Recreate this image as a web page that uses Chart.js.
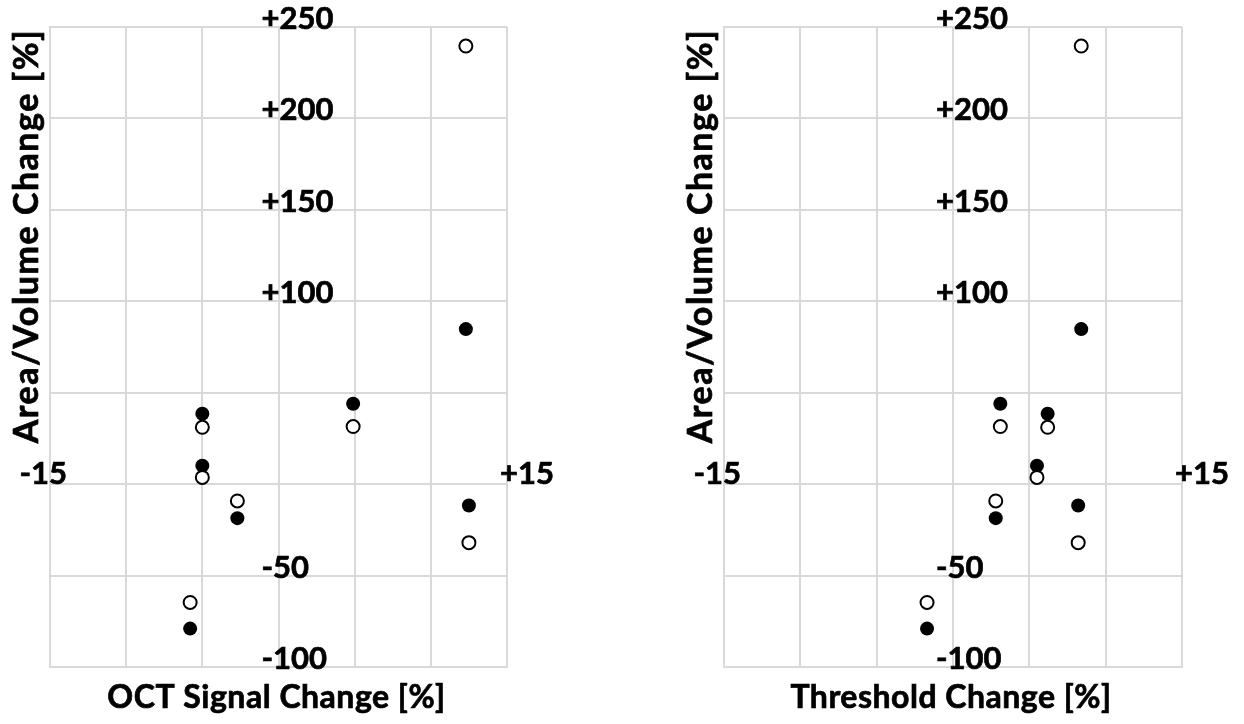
<!DOCTYPE html>
<html>
<head>
<meta charset="utf-8">
<script src="https://cdn.jsdelivr.net/npm/chart.js@4"></script>
<style>
  body { margin: 0; background: #fff; }
  .panel { position: absolute; top: 0; width: 622px; height: 724px; }
</style>
</head>
<body>
<div class="panel" style="left:0"><canvas id="octChart" width="622" height="724"></canvas></div>
<div class="panel" style="left:622px"><canvas id="thrChart" width="622" height="724"></canvas></div>
<script>
// one entry per eye / subject, same order in every array
var areaChange = [84.8, 44, 38.5, 10.1, -18.6, -79, -11.7];
var volumeChange = [239.6, 31.5, 31.1, 3.7, -9.2, -64.7, -32];
var octSignalChange = [12.3, 4.9, -5.0, -5.0, -2.7, -5.8, 12.5];
var thresholdChange = [8.4, 3.1, 6.2, 5.5, 2.8, -1.7, 8.2];

var yLabelValues = [250, 200, 150, 100, -50, -100];
var yLabelTexts = ["+250", "+200", "+150", "+100", "-50", "-100"];
var xLabelValues = [-15, 15];
var xLabelTexts = ["-15", "+15"];

var yTitle = "Area/Volume Change [%]";

var FAMILY = "Lato, 'Open Sans', sans-serif";
var GRID = "#d9d9d9";

function toPoints(xs, ys) {
    var pts = [];
    for (var i = 0; i < xs.length; i++) {
        pts.push({ x: xs[i], y: ys[i] });
    }
    return pts;
}

// bold text with a thin outline so Lato looks as heavy as the original
function heavyText(ctx, txt, x, y) {
    ctx.fillText(txt, x, y);
    ctx.strokeText(txt, x, y);
}

// draws the tick labels next to the zero axes plus both axis titles
var labelPlugin = {
    id: "labels",
    afterDraw: function(chart) {
        var ctx = chart.ctx;
        var xs = chart.scales.x;
        var ys = chart.scales.y;
        var area = chart.chartArea;
        var x0 = xs.getPixelForValue(0);
        var y0 = ys.getPixelForValue(0);
        ctx.save();
        ctx.fillStyle = "#000";
        ctx.strokeStyle = "#000";
        ctx.lineWidth = 0.7;
        ctx.font = "bold 31px " + FAMILY;
        ctx.textBaseline = "alphabetic";

        ctx.textAlign = "left";
        for (var i = 0; i < yLabelValues.length; i++) {
            heavyText(ctx, yLabelTexts[i], x0 - 17, ys.getPixelForValue(yLabelValues[i]) + 2);
        }

        for (var j = 0; j < xLabelValues.length; j++) {
            var px = xs.getPixelForValue(xLabelValues[j]);
            if (xLabelValues[j] < 0) {
                ctx.textAlign = "right";
                heavyText(ctx, xLabelTexts[j], px + 17, y0);
            } else {
                ctx.textAlign = "left";
                heavyText(ctx, xLabelTexts[j], px - 7, y0);
            }
        }

        // x title
        ctx.font = "bold 32px " + FAMILY;
        ctx.letterSpacing = "0.5px";
        ctx.textAlign = "center";
        heavyText(ctx, chart.options.xTitle, (area.left + area.right) / 2 - 2, area.bottom + 41);

        // y title, rotated
        ctx.font = "bold 34px " + FAMILY;
        ctx.letterSpacing = "1.5px";
        ctx.translate(area.left - 23, area.top + 209);
        ctx.rotate(-Math.PI / 2);
        ctx.textBaseline = "middle";
        heavyText(ctx, yTitle, 0, 0);
        ctx.restore();
    }
};

function drawScatter(canvasId, xValues, xTitle, padLeft, padRight) {
    var ctx = document.getElementById(canvasId).getContext("2d");
    return new Chart(ctx, {
        type: "scatter",
        data: {
            datasets: [{
                label: "Volume",
                data: toPoints(xValues, volumeChange),
                pointRadius: 6.5,
                pointBorderWidth: 2,
                pointBackgroundColor: "#fff",
                pointBorderColor: "#000"
            }, {
                label: "Area",
                data: toPoints(xValues, areaChange),
                pointRadius: 7,
                pointBorderWidth: 0,
                pointBackgroundColor: "#000",
                pointBorderColor: "#000"
            }]
        },
        options: {
            responsive: false,
            animation: false,
            devicePixelRatio: 1,
            xTitle: xTitle,
            layout: { padding: { left: padLeft, right: padRight, top: 27, bottom: 57 } },
            plugins: { legend: { display: false }, tooltip: { enabled: false } },
            scales: {
                x: {
                    type: "linear", min: -15, max: 15,
                    ticks: { stepSize: 5, display: false },
                    grid: { color: GRID, lineWidth: 2, drawTicks: false },
                    border: { color: GRID, width: 2 }
                },
                y: {
                    type: "linear", min: -100, max: 250,
                    ticks: { stepSize: 50, display: false },
                    grid: { color: GRID, lineWidth: 2, drawTicks: false },
                    border: { color: GRID, width: 2 }
                }
            }
        },
        plugins: [labelPlugin]
    });
}

drawScatter("octChart", octSignalChange, "OCT Signal Change [%]", 50, 115);
drawScatter("thrChart", thresholdChange, "Threshold Change [%]", 102, 62);
</script>
</body>
</html>
